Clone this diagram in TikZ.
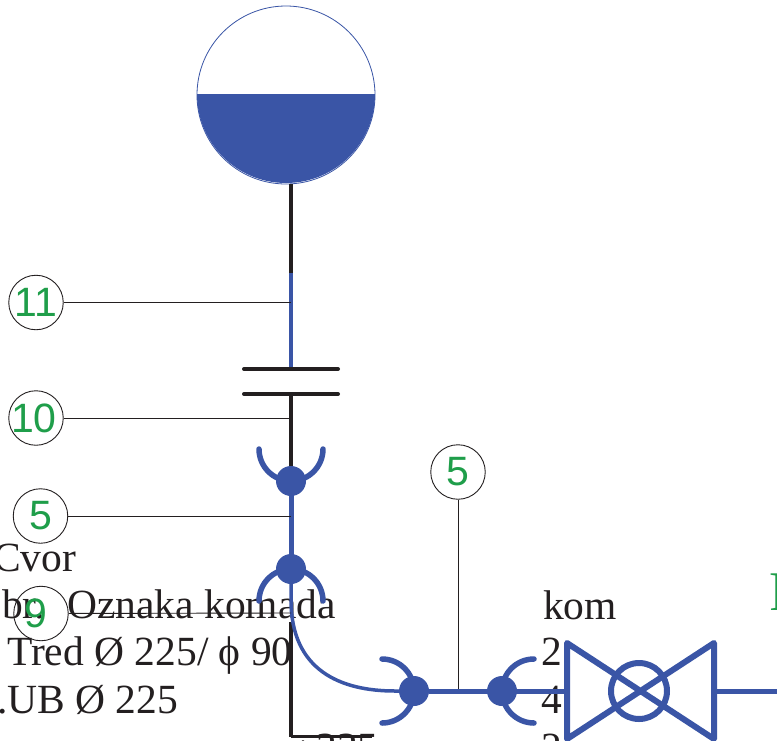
\documentclass[tikz,border=0pt]{standalone}
\usepackage{fontspec}
\setmainfont{Liberation Serif}
\newfontfamily\numfont{Liberation Sans}
\definecolor{pipeblue}{HTML}{3A55A6}
\definecolor{tagblack}{HTML}{231F20}
\definecolor{taggreen}{HTML}{1F9E4A}
\tikzset{
  x=1pt,y=-1pt,
  pipe/.style={draw=pipeblue,line width=5pt},
  bell/.style={draw=pipeblue,line width=5.5pt,line cap=round},
  ball/.style={circle,fill=pipeblue,minimum size=30pt,inner sep=0pt},
  blackpipe/.style={draw=tagblack,line width=4pt},
  flangebar/.style={draw=tagblack,line width=4pt,line cap=round},
  tag/.style={circle,draw=tagblack,line width=.9pt,minimum size=54.5pt,inner sep=0pt,text=taggreen,font=\numfont\fontsize{41}{41}\selectfont},
  leader/.style={draw=tagblack,line width=.9pt},
  tabletext/.style={anchor=base west,inner sep=0pt,text=tagblack,font=\fontsize{41.5}{41.5}\selectfont},
}
\begin{document}
\begin{tikzpicture}
\useasboundingbox (0,0) rectangle (777,740);
\clip (0,0) rectangle (777,740);
\fill[white] (0,0) rectangle (777,740);
% tank
\coordinate (tankc) at (286,95);
\fill[pipeblue] (197,94) arc[start angle=180,end angle=0,radius=89] -- cycle;
\node[circle,draw=pipeblue,line width=.8pt,minimum size=178pt,inner sep=0pt] (tank) at (tankc) {};
% coordinates
\coordinate (tankfoot) at (291,184);
\coordinate (bluetop) at (291,273);
\coordinate (f1) at (291,369);
\coordinate (f2) at (291,394);
\coordinate (lead11) at (291,302.5);
\coordinate (lead10) at (291,418);
\coordinate (lead5) at (291,516);
\coordinate (lead9) at (291,613);
\coordinate (lead5b) at (458,691);
\coordinate (pipeend) at (777,691);
\coordinate (blackfoot) at (291,736.5);
\coordinate (blackfootr) at (372,736.5);
\coordinate (valvein) at (567,691);
\coordinate (valveout) at (714,691);
% table text
\node[tabletext] (t1) at (-7,571) {Cvor};
\node[tabletext] (t2) at (2,618) {br.};
\node[tabletext] (t3) at (67,618) {Oznaka komada};
\node[tabletext] (t4) at (543,619) {kom};
\node[tabletext] (t5) at (7,665) {Tred Ø 225/ ϕ 90};
\node[tabletext] (t6) at (541,665) {2};
\node[tabletext] (t7) at (-3,713) {.UB Ø 225};
\node[tabletext] (t8) at (541,713) {4};
\node[tabletext] (t9) at (541,761) {2};
\node[tabletext] (t10) at (285,761) {ø 225};
\node[anchor=base west,inner sep=0pt,text=taggreen,font=\fontsize{56}{56}\selectfont] (t11) at (769,610) {P};
% pipes
\draw[blackpipe] (tankfoot) -- (f1);
\draw[draw=pipeblue,line width=3.5pt] (bluetop) -- (f1);
\draw[flangebar] (244,369) -- (338,369);
\draw[flangebar] (244,394) -- (338,394);
\draw[blackpipe] (f2) -- (291,481);
\draw[pipe] (291,481) -- (291,569);
\draw[blackpipe] (291,622) -- (blackfoot);
\draw[draw=tagblack,line width=2.8pt] (blackfoot) -- (blackfootr);
\draw[draw=pipeblue,line width=3.5pt] (291,569) -- (291,600) .. controls (291,670) and (340,691) .. (395,691) -- (414,691);
% leaders and tags
\node[tag] (n11) at (36,302.5) {11};
\node[tag] (n10) at (36,418) {\hspace{-4pt}10};
\node[tag] (n5) at (40.5,516) {5};
\node[tag] (n9) at (41,613.5) {\hspace{-10pt}9};
\node[tag] (n5b) at (458,472) {5};
\draw[leader] (n11) -- (lead11);
\draw[leader] (n10) -- (lead10);
\draw[leader] (n5) -- (lead5);
\draw[leader] (n9) -- (lead9);
\draw[leader] (n5b) -- (lead5b);
% sockets
\node[ball] (b1) at (291,481) {};
\node[ball] (b2) at (291,569) {};
\node[ball] (b3) at (414,691) {};
\node[ball] (b4) at (502,691) {};
\draw[bell] (259,449) arc[start angle=180,end angle=0,radius=32];
\draw[bell] (259,601) arc[start angle=180,end angle=360,radius=32];
\draw[bell] (382,659) arc[start angle=270,end angle=450,radius=32];
\draw[bell] (534,659) arc[start angle=270,end angle=90,radius=32];
\draw[pipe] (b3) -- (valvein);
% valve
\draw[draw=pipeblue,line width=6pt,line join=round] (567,643) -- (714,739) -- (714,643) -- (567,739) -- cycle;
\node[circle,draw=pipeblue,line width=6pt,minimum size=56pt,inner sep=0pt] (valve) at (639,691) {};
\draw[pipe] (valveout) -- (pipeend);
\end{tikzpicture}
\end{document}
